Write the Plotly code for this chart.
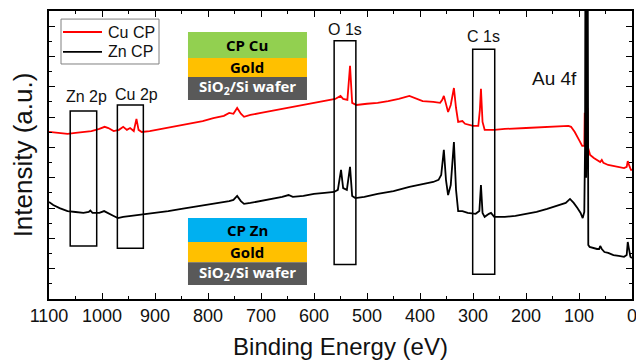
import plotly.graph_objects as go

# ---------------- data ----------------
cu_energy = [1100, 1085, 1065, 1050, 1035, 1020, 1005, 995, 988, 978, 968, 960, 953, 947, 940, 935, 931, 925,
             910, 890, 870, 850, 830, 810, 790, 770, 760, 752, 745, 738, 732, 720, 700, 680, 660, 640, 620,
             600, 580, 560, 550, 545, 537, 532, 528, 520, 500, 480, 460, 440, 420, 410, 395, 375, 362, 358,
             355, 350, 347, 342, 336, 332, 328, 320, 315, 300, 290, 287, 285, 282, 278, 260, 240, 200, 160,
             120, 115, 108, 100, 94, 90, 89.2, 88.4, 86.5, 84.0, 83.0, 82, 79, 72, 65, 60, 57, 54, 45,
             35, 25, 15, 10, 8, 5, 2, 0]
cu_intensity = [5.51, 5.48, 5.45, 5.48, 5.51, 5.54, 5.61, 5.68, 5.64, 5.54, 5.58, 5.68, 5.58, 5.64, 5.54, 5.94,
                5.58, 5.51, 5.54, 5.61, 5.68, 5.74, 5.81, 5.87, 5.97, 6.04, 6.14, 6.11, 6.30, 6.11, 6.01, 6.07,
                6.14, 6.20, 6.27, 6.34, 6.40, 6.47, 6.53, 6.60, 6.70, 6.60, 6.57, 7.69, 6.47, 6.40, 6.44, 6.47,
                6.53, 6.60, 6.70, 6.63, 6.53, 6.50, 6.47, 6.57, 6.70, 6.37, 6.17, 6.40, 6.96, 6.30, 5.84, 5.87,
                5.78, 5.71, 5.71, 6.24, 6.93, 5.84, 5.58, 5.58, 5.61, 5.64, 5.68, 5.71, 5.68, 5.51, 5.25, 5.05,
                5.05, 6.14, 5.5, 5.3, 6.3, 5.0, 4.92, 4.75, 4.65, 4.59, 4.52, 4.59, 4.49, 4.42, 4.39,
                4.36, 4.32, 4.36, 4.55, 4.39, 4.26, 4.26]

zn_energy = [1100, 1092, 1080, 1065, 1050, 1035, 1025, 1022, 1018, 1005, 996, 988, 978, 970, 960, 945, 930,
             915, 900, 875, 850, 825, 800, 780, 760, 752, 745, 738, 732, 720, 700, 680, 660, 648, 640, 620,
             600, 580, 562, 555, 549, 545, 538, 532, 528, 522, 505, 480, 450, 420, 395, 375, 365, 360, 355,
             351, 347, 342, 336, 332, 328, 320, 310, 295, 288, 285, 282, 278, 270, 266, 260, 240, 220, 200,
             180, 160, 140, 125, 117, 110, 103, 97, 93, 90, 88.6, 87.7, 86.5, 85.5, 84.0, 83.0, 82.5, 80, 74,
             66, 62, 60, 57, 52, 45, 35, 25, 15, 10, 8, 6, 3, 0]
zn_intensity = [3.20, 3.10, 3.00, 2.90, 2.87, 2.84, 2.87, 2.92, 2.84, 2.84, 2.90, 2.84, 2.74, 2.67, 2.71, 2.74,
                2.77, 2.81, 2.84, 2.90, 2.97, 3.04, 3.10, 3.17, 3.23, 3.27, 3.40, 3.23, 3.14, 3.17, 3.23, 3.30,
                3.37, 3.43, 3.37, 3.40, 3.47, 3.50, 3.53, 3.60, 4.26, 3.66, 3.60, 4.36, 3.40, 3.33, 3.37, 3.47,
                3.56, 3.70, 3.80, 3.86, 3.93, 4.09, 4.92, 3.93, 3.43, 3.76, 5.18, 3.60, 2.90, 2.90, 2.84, 2.81,
                2.90, 3.76, 2.84, 2.71, 2.81, 2.84, 2.71, 2.71, 2.74, 2.81, 2.87, 2.97, 3.07, 3.17, 3.30, 3.17,
                3.00, 2.84, 2.67, 2.87, 5.0, 13.0, 4.0, 5.0, 15.0, 3.0, 1.78, 1.72, 1.68, 1.65, 1.65, 1.75,
                1.65, 1.55, 1.52, 1.45, 1.42, 1.39, 1.45, 1.88, 1.68, 1.39, 1.35]

series_names = ["Cu CP", "Zn CP"]
series_colors = ["#ff0000", "#000000"]
x_ticks = [1100, 1000, 900, 800, 700, 600, 500, 400, 300, 200, 100, 0]

# peak boxes: label, energy from, energy to, intensity bottom, intensity top
box_labels = ["Zn 2p", "Cu 2p", "O 1s", "C 1s"]
box_e_hi = [1060, 971, 562, 300.6]
box_e_lo = [1010, 922, 521, 259]
box_i_lo = [1.75, 1.67, 1.14, 0.82]
box_i_hi = [6.20, 6.40, 8.52, 8.24]

# ---------------- figure ----------------
fig = go.Figure()
fig.add_trace(go.Scatter(x=cu_energy, y=cu_intensity, mode="lines", name=series_names[0],
                         line=dict(color=series_colors[0], width=1.8), showlegend=False))
fig.add_trace(go.Scatter(x=zn_energy, y=zn_intensity, mode="lines", name=series_names[1],
                         line=dict(color=series_colors[1], width=1.8), showlegend=False))

# boxes
for lab, e1, e0, i0, i1 in zip(box_labels, box_e_hi, box_e_lo, box_i_lo, box_i_hi):
    fig.add_shape(type="rect", x0=e1, x1=e0, y0=i0, y1=i1, xref="x", yref="y",
                  line=dict(color="black", width=1.5), fillcolor="rgba(0,0,0,0)")

# box labels
label_font = dict(family="Liberation Sans, Arial", size=16, color="#111")
label_pos = {"Zn 2p": (1030, 6.67), "Cu 2p": (934, 6.74), "O 1s": (541, 8.9), "C 1s": (280, 8.66)}
for lab in box_labels:
    x, y = label_pos[lab]
    fig.add_annotation(x=x, y=y, xref="x", yref="y", text=lab, showarrow=False, font=label_font,
                       xanchor="center", yanchor="middle")
fig.add_annotation(x=146, y=7.26, xref="x", yref="y", text="Au 4f", showarrow=False,
                   xanchor="center", yanchor="middle",
                   font=dict(family="Liberation Sans, Arial", size=19, color="#111"))

# legend box (drawn by hand to match the original's compact spacing)
fig.add_shape(type="rect", xref="paper", yref="paper", x0=0.0206, x1=0.1887, y0=0.816, y1=0.972,
              fillcolor="white", line=dict(color="#808080", width=1), layer="above")
leg_y = [0.927, 0.858]
for name, col, yy in zip(series_names, series_colors, leg_y):
    fig.add_shape(type="line", xref="paper", yref="paper", x0=0.024, x1=0.0909, y0=yy, y1=yy,
                  line=dict(color=col, width=1.8), layer="above")
    fig.add_annotation(xref="paper", yref="paper", x=0.0985, y=yy, text=name, showarrow=False,
                       xanchor="left", yanchor="middle",
                       font=dict(family="Liberation Sans, Arial", size=16, color="#111"))

# layer stacks (paper coordinates)
px0, px1 = 0.2384, 0.4425
stacks = [
    [(0.837, 0.927, "#92D050", "CP Cu", "black"),
     (0.771, 0.837, "#FFC000", "Gold", "black"),
     (0.691, 0.771, "#595959", "SiO<sub>2</sub>/Si wafer", "white")],
    [(0.198, 0.281, "#00B0F0", "CP Zn", "black"),
     (0.128, 0.198, "#FFC000", "Gold", "black"),
     (0.0486, 0.128, "#595959", "SiO<sub>2</sub>/Si wafer", "white")],
]
for stack in stacks:
    for y0, y1, col, txt, tcol in stack:
        fig.add_shape(type="rect", xref="paper", yref="paper", x0=px0, x1=px1, y0=y0, y1=y1,
                      fillcolor=col, line=dict(width=0), layer="above")
        fig.add_annotation(xref="paper", yref="paper", x=(px0 + px1) / 2, y=(y0 + y1) / 2,
                           xanchor="center", yanchor="middle",
                           yshift=1 if "SiO" in txt else 0,
                           text="<b>" + txt + "</b>", showarrow=False,
                           font=dict(family="Open Sans", size=15, color=tcol))

axis_common = dict(showline=True, linecolor="black", linewidth=1.5, mirror="ticks",
                   ticks="inside", tickcolor="black", tickwidth=1.3, showgrid=False, zeroline=False)

fig.update_layout(
    width=636, height=360,
    margin=dict(l=49, r=4, t=11, b=61),
    plot_bgcolor="white", paper_bgcolor="white",
    showlegend=False,
    xaxis=dict(range=[1100, 0], tickvals=x_ticks, ticktext=[str(v) for v in x_ticks],
               ticklen=6, minor=dict(dtick=50, ticks="inside", ticklen=3, tickcolor="black"),
               tickfont=dict(family="Liberation Sans, Arial", size=18, color="#111"),
               ticklabeloverflow="allow",
               title=dict(text="Binding Energy (eV)", standoff=14,
                          font=dict(family="Liberation Sans, Arial", size=24, color="#111")),
               automargin=False, **axis_common),
    yaxis=dict(range=[0, 9.5], dtick=1, showticklabels=False, ticklen=6,
               minor=dict(dtick=0.5, ticks="inside", ticklen=3, tickcolor="black"),
               title=dict(text="Intensity (a.u.)", standoff=7,
                          font=dict(family="Liberation Sans, Arial", size=26, color="#111")),
               automargin=False, **axis_common),
)

fig.write_html("out.html", config={"displayModeBar": False})

# remove the browser's default page margin so the figure sits at the window origin
with open("out.html", "r", encoding="utf-8") as f:
    html = f.read()
html = html.replace("<head>", "<head><style>html,body{margin:0;padding:0;overflow:hidden;}</style>", 1)
with open("out.html", "w", encoding="utf-8") as f:
    f.write(html)
